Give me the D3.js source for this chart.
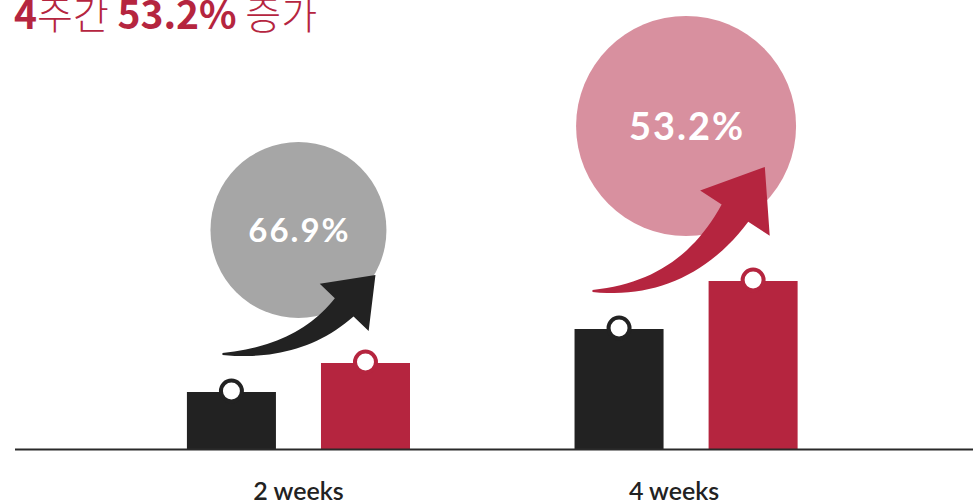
<!DOCTYPE html>
<html>
<head>
<meta charset="utf-8">
<script src="https://cdn.jsdelivr.net/npm/d3@7"></script>
<style>
    html, body { margin: 0; padding: 0; background: #fff; }
    svg { display: block; }
</style>
</head>
<body>
<div id="chart"></div>
<script>
// data
const categories = ['2 weeks', '4 weeks'];
const beforeValues = [57, 120];
const afterValues = [86, 168];
const growthLabels = ['66.9%', '53.2%'];
const titleParts = [
    {text: '4', bold: true},
    {text: '주간 ', bold: false},
    {text: '53.2%', bold: true},
    {text: ' 증가', bold: false}
];

const W = 973, H = 504;
const baseY = 449;
const red = '#b5253f';
const dark = '#222222';
const bubbleColors = ['#a6a6a6', '#d8909f'];
const arrowColors = [dark, red];
const bubbleRadius = [88, 110];
const arrowScale = [1, 1.22];
const labelSizes = [33, 38];

const svg = d3.select('#chart').append('svg')
    .attr('width', W)
    .attr('height', H);

// scales
const x = d3.scaleBand()
    .domain(categories)
    .range([15, 973])
    .paddingInner(0.4245)
    .paddingOuter(0.448)
    .align(0.495);

const xInner = d3.scaleBand()
    .domain(['before', 'after'])
    .range([0, x.bandwidth()])
    .paddingInner(0.336);

const y = d3.scaleLinear()
    .domain([0, 200])
    .range([baseY, baseY - 200]);

// title
const title = svg.append('text')
    .attr('x', 14)
    .attr('y', 29)
    .style('font-family', '"Noto Sans CJK KR", "Noto Sans", sans-serif')
    .style('font-size', '39px')
    .style('fill', red);
title.selectAll('tspan')
    .data(titleParts)
    .enter().append('tspan')
    .style('font-weight', d => d.bold ? 'bold' : '300')
    .text(d => d.text);

// tapered curved arrow
function arrowShape(T, P, s, angle) {
    const dir = [Math.cos(angle), Math.sin(angle)];
    const headLen = 45 * s, headHalf = 34 * s, neckHalf = 13 * s;
    const B = [P[0] - headLen * dir[0], P[1] - headLen * dir[1]];
    const k = (T[1] - B[1]) / Math.abs(dir[1]);
    const C = [B[0] - k * dir[0], T[1]];
    const q = t => [
        (1 - t) * (1 - t) * T[0] + 2 * (1 - t) * t * C[0] + t * t * B[0],
        (1 - t) * (1 - t) * T[1] + 2 * (1 - t) * t * C[1] + t * t * B[1]
    ];
    const dq = t => [
        2 * (1 - t) * (C[0] - T[0]) + 2 * t * (B[0] - C[0]),
        2 * (1 - t) * (C[1] - T[1]) + 2 * t * (B[1] - C[1])
    ];
    const upper = [], lower = [];
    d3.range(0, 1.0001, 0.04).forEach(t => {
        const p = q(t), d = dq(t);
        const len = Math.hypot(d[0], d[1]);
        const n = [d[1] / len, -d[0] / len];
        const w = 1 + (neckHalf - 1) * Math.pow(t, 0.9);
        upper.push([p[0] + n[0] * w, p[1] + n[1] * w]);
        lower.push([p[0] - n[0] * w, p[1] - n[1] * w]);
    });
    const n = [dir[1], -dir[0]];
    const head = [
        [B[0] + n[0] * headHalf, B[1] + n[1] * headHalf],
        P,
        [B[0] - n[0] * headHalf, B[1] - n[1] * headHalf]
    ];
    return upper.concat(head, lower.reverse());
}

const line = d3.line().curve(d3.curveLinear);

categories.forEach((cat, i) => {
    const g = svg.append('g').attr('transform', `translate(${x(cat)},0)`);
    const cx = x.bandwidth() / 2;
    const yb = y(beforeValues[i]);
    const ya = y(afterValues[i]);
    const r = bubbleRadius[i];
    const cy = ya - r - 45;

    // bubble
    g.append('circle')
        .attr('cx', cx)
        .attr('cy', cy)
        .attr('r', r)
        .attr('fill', bubbleColors[i]);

    g.append('text')
        .attr('x', cx + 1)
        .attr('y', cy)
        .attr('dy', '0.36em')
        .attr('text-anchor', 'middle')
        .style('font-family', 'Lato, "Open Sans", sans-serif')
        .style('font-weight', 'bold')
        .style('font-size', labelSizes[i] + 'px')
        .style('letter-spacing', '2px')
        .style('fill', '#fff')
        .text(growthLabels[i]);

    // arrow
    const s = arrowScale[i];
    const tail = [cx - 76 - (s - 1) * 80, yb - 38];
    const tip = [cx + 77 + (s - 1) * 8, ya - 88 - (s - 1) * 118];
    const angle = -(46 + (s - 1) * 50) * Math.PI / 180;
    g.append('path')
        .attr('d', line(arrowShape(tail, tip, s, angle)) + 'Z')
        .attr('fill', arrowColors[i]);

    // bars
    const bars = [
        {key: 'before', value: beforeValues[i], color: dark},
        {key: 'after', value: afterValues[i], color: red}
    ];
    g.selectAll('rect.bar')
        .data(bars)
        .enter().append('rect')
        .attr('class', 'bar')
        .attr('x', d => xInner(d.key))
        .attr('y', d => y(d.value))
        .attr('width', xInner.bandwidth())
        .attr('height', d => baseY - y(d.value))
        .attr('fill', d => d.color);

    g.selectAll('circle.ring')
        .data(bars)
        .enter().append('circle')
        .attr('class', 'ring')
        .attr('cx', d => xInner(d.key) + xInner.bandwidth() / 2)
        .attr('cy', d => y(d.value) - 1)
        .attr('r', 10.5)
        .attr('fill', '#fff')
        .attr('stroke', d => d.color)
        .attr('stroke-width', 4);
});

// baseline
svg.append('line')
    .attr('x1', 15)
    .attr('x2', W)
    .attr('y1', baseY + 0.5)
    .attr('y2', baseY + 0.5)
    .attr('stroke', '#2a2a2a')
    .attr('stroke-width', 2);

// category labels
svg.append('g')
    .selectAll('text')
    .data(categories)
    .enter().append('text')
    .attr('x', (d, i) => x(d) + x.bandwidth() / 2 - i * 12)
    .attr('y', 500)
    .attr('text-anchor', 'middle')
    .style('font-family', 'Lato, "Open Sans", sans-serif')
    .style('font-weight', '600')
    .style('font-size', '25px')
    .style('fill', dark)
    .text(d => d);
</script>
</body>
</html>
